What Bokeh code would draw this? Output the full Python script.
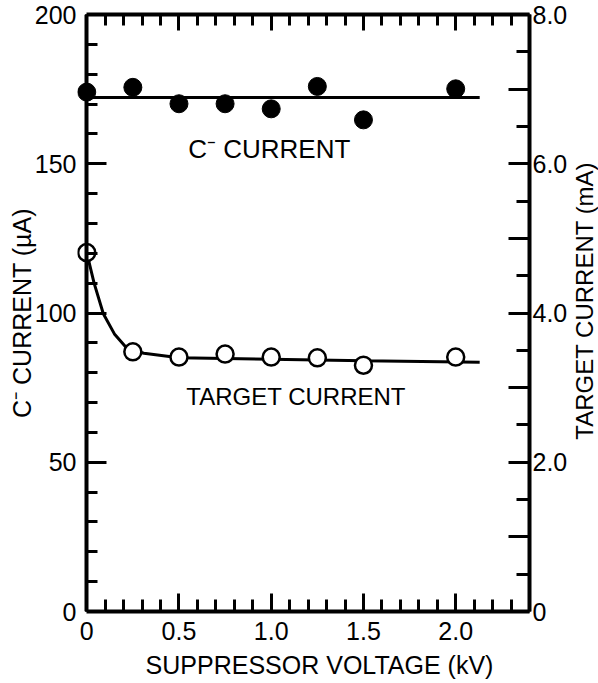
import math

from bokeh.plotting import figure
from bokeh.layouts import row, column
from bokeh.models import (Range1d, LinearAxis, FixedTicker, Label,
                          CustomLabelingPolicy)
from bokeh.embed import file_html
from bokeh.resources import INLINE

# Measured points: suppressor voltage (kV)
voltage_kv = [0.0, 0.25, 0.5, 0.75, 1.0, 1.25, 1.5, 2.0]
# C- beam current (uA, left axis)
c_minus_ua = [174.0, 175.6, 170.1, 170.1, 168.4, 175.9, 164.7, 175.1]
# Target current (mA, right axis)
target_ma = [4.81, 3.48, 3.41, 3.45, 3.41, 3.40, 3.30, 3.41]

# Hand-drawn trend lines through each series
c_trend_kv = [0.0, 2.13]
c_trend_ua = [172.2, 172.2]
target_trend_kv = [0.0, 0.04, 0.09, 0.15, 0.22, 0.31, 0.5, 1.0, 1.5, 2.13]
target_trend_ma = [4.81, 4.40, 3.99, 3.72, 3.52, 3.46, 3.40, 3.38, 3.36, 3.34]

# Tick positions and labels
x_major = [0.0, 0.5, 1.0, 1.5, 2.0]
x_minor = [0.0, 0.1, 0.2, 0.3, 0.4, 0.5, 0.6, 0.7, 0.8, 0.9, 1.0, 1.1, 1.2,
           1.3, 1.4, 1.5, 1.6, 1.7, 1.8, 1.9, 2.0, 2.1, 2.2, 2.3, 2.4]
x_labels = {0.0: "0", 0.5: "0.5", 1.0: "1.0", 1.5: "1.5", 2.0: "2.0"}
ua_major = [0, 50, 100, 150, 200]
ua_minor = [0, 10, 20, 30, 40, 50, 60, 70, 80, 90, 100, 110, 120, 130, 140,
            150, 160, 170, 180, 190, 200]
ma_major = [0, 1, 2, 3, 4, 5, 6, 7, 8]
ma_minor = [0.5, 1.5, 2.5, 3.5, 4.5, 5.5, 6.5, 7.5]
ma_labels = {0: "0", 2: "2.0", 4: "4.0", 6: "6.0", 8: "8.0"}

FONT = "Liberation Sans"
INK = "black"

MAIN_W, MAIN_H = 570, 651
SIDE_W = 598 - MAIN_W
FOOT_H = 683 - MAIN_H

# The x range starts a little below zero so the markers sitting on
# V = 0 are not clipped; the left axis line is pinned at V = 0.
p = figure(
    width=MAIN_W, height=MAIN_H,
    x_range=Range1d(-0.05, 2.4), y_range=Range1d(0, 200),
    output_backend="svg", toolbar_location=None,
    min_border_left=77, min_border_right=40,
    min_border_top=14, min_border_bottom=40,
    background_fill_color="white", border_fill_color="white",
)
p.outline_line_color = None
p.xgrid.grid_line_color = None
p.ygrid.grid_line_color = None
p.extra_y_ranges = {"ma": Range1d(0, 8)}


def style_axis(ax, major_in, minor_in):
    ax.axis_line_color = INK
    ax.axis_line_width = 4
    ax.major_tick_line_color = INK
    ax.minor_tick_line_color = INK
    ax.major_tick_line_width = 3
    ax.minor_tick_line_width = 3
    ax.major_tick_in = major_in
    ax.major_tick_out = 0
    ax.minor_tick_in = minor_in
    ax.minor_tick_out = 0
    ax.major_label_text_font = FONT
    ax.major_label_text_font_size = "25px"
    ax.major_label_text_color = INK
    ax.axis_label_text_font = FONT
    ax.axis_label_text_font_size = "25px"
    ax.axis_label_text_font_style = "normal"
    ax.axis_label_text_color = INK


def no_labels():
    return CustomLabelingPolicy(code="""
        for (const i of Array.from(indices)) { indices.unset(i) }
        return indices
    """)


# Bottom axis
xb = p.xaxis[0]
xb.ticker = FixedTicker(ticks=x_major, minor_ticks=x_minor)
xb.major_label_overrides = x_labels
xb.bounds = (0, 2.4)
style_axis(xb, 18, 12)
xb.major_label_standoff = 10

# Left axis line and ticks (uA), pinned at V = 0
yl = p.yaxis[0]
yl.ticker = FixedTicker(ticks=ua_major, minor_ticks=ua_minor)
yl.fixed_location = 0
style_axis(yl, 20, 11)
yl.major_label_text_font_size = "0px"
yl.major_label_standoff = 0
yl.major_label_policy = no_labels()

# Left tick labels and title, in the border next to the frame
yl_text = LinearAxis(ticker=FixedTicker(ticks=ua_major))
style_axis(yl_text, 0, 0)
yl_text.axis_line_color = None
yl_text.major_tick_line_color = None
yl_text.minor_tick_line_color = None
yl_text.major_label_standoff = 1
yl_text.axis_label = "C\u207b CURRENT (\u00b5A)"
yl_text.axis_label_standoff = -4
p.add_layout(yl_text, "left")

# Top axis: ticks only
xt = LinearAxis(ticker=FixedTicker(ticks=x_major, minor_ticks=x_minor),
                bounds=(0, 2.4))
style_axis(xt, 16, 11)
xt.major_label_text_font_size = "0px"
xt.major_label_standoff = 0
xt.major_label_policy = no_labels()
p.add_layout(xt, "above")

# Right axis (mA): long ticks every 1.0, labels only on even values
yr = LinearAxis(y_range_name="ma",
                ticker=FixedTicker(ticks=ma_major, minor_ticks=ma_minor))
yr.major_label_overrides = ma_labels
style_axis(yr, 21, 13)
yr.major_label_standoff = 3
yr.major_label_policy = CustomLabelingPolicy(code="""
    for (const i of Array.from(indices)) { if (i % 2 == 1) indices.unset(i) }
    return indices
""")
p.add_layout(yr, "right")

# Trend lines
p.line(c_trend_kv, c_trend_ua, line_color=INK, line_width=3)
p.line(target_trend_kv, target_trend_ma, y_range_name="ma",
       line_color=INK, line_width=3)

# Data markers
p.scatter(voltage_kv, c_minus_ua, marker="circle", size=18,
          fill_color=INK, line_color=INK)
p.scatter(voltage_kv, target_ma, y_range_name="ma", marker="circle",
          size=17, fill_color="white", line_color=INK, line_width=2.5)

# Series captions inside the frame
for text, x, y, size in [("C\u207b  CURRENT", 0.55, 155, "26px"),
                         ("TARGET CURRENT", 0.54, 72, "24px")]:
    p.add_layout(Label(x=x, y=y, text=text, text_font=FONT,
                       text_font_size=size, text_color=INK,
                       text_baseline="middle"))


def title_strip(width, height, text, x, y, angle, size):
    """A bare pixel-scaled panel holding one axis title."""
    f = figure(width=width, height=height,
               x_range=Range1d(0, width), y_range=Range1d(0, height),
               x_axis_type=None, y_axis_type=None,
               output_backend="svg", toolbar_location=None,
               min_border=0, background_fill_color="white",
               border_fill_color="white")
    f.outline_line_color = None
    f.add_layout(Label(x=x, y=y, text=text, angle=angle, text_font=FONT,
                       text_font_size=size, text_color=INK,
                       text_align="center", text_baseline="middle"))
    return f


# Right-hand title, reading upward like the left one
side = title_strip(SIDE_W, MAIN_H, "TARGET CURRENT (mA)",
                   SIDE_W / 2, MAIN_H - 312, math.pi / 2, "24px")
# Horizontal axis title
foot = title_strip(598, FOOT_H, "SUPPRESSOR VOLTAGE (kV)",
                   319, FOOT_H - 13, 0.0, "25px")

layout = column(row(p, side, spacing=0), foot, spacing=0)

open("out.html", "w").write(file_html(layout, INLINE))
